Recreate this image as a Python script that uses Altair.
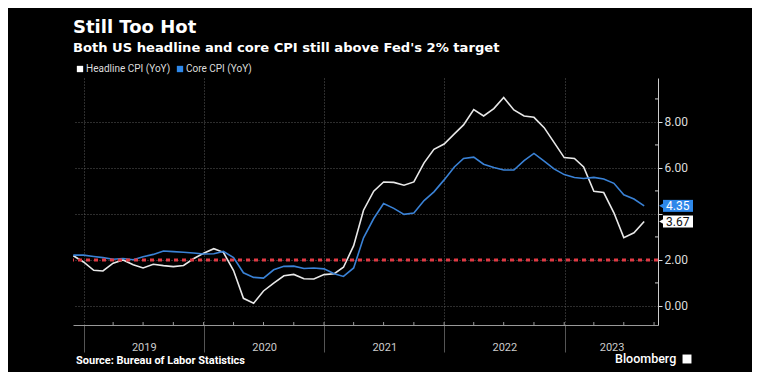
import altair as alt
import pandas as pd

# ---------------- data ----------------
start_month = "2018-11"
headline = [2.18, 1.91,
            1.55, 1.52, 1.86, 2.00, 1.79, 1.65, 1.81, 1.75, 1.71, 1.76, 2.05, 2.29,
            2.49, 2.33, 1.54, 0.33, 0.12, 0.65, 0.99, 1.31, 1.37, 1.18, 1.17, 1.36,
            1.40, 1.68, 2.62, 4.16, 4.99, 5.39, 5.37, 5.25, 5.39, 6.22, 6.81, 7.04,
            7.48, 7.87, 8.54, 8.26, 8.58, 9.06, 8.52, 8.26, 8.20, 7.75, 7.11, 6.45,
            6.41, 6.04, 4.98, 4.93, 4.05, 2.97, 3.18, 3.67]
core = [2.21, 2.21,
        2.15, 2.10, 2.03, 2.06, 2.01, 2.14, 2.24, 2.39, 2.36, 2.33, 2.30, 2.26,
        2.27, 2.37, 2.10, 1.44, 1.24, 1.21, 1.57, 1.72, 1.73, 1.63, 1.65, 1.61,
        1.40, 1.28, 1.65, 2.96, 3.80, 4.45, 4.24, 3.98, 4.04, 4.58, 4.96, 5.48,
        6.04, 6.41, 6.47, 6.16, 6.02, 5.91, 5.91, 6.32, 6.63, 6.30, 5.96, 5.71,
        5.58, 5.54, 5.59, 5.52, 5.33, 4.83, 4.65, 4.35]
series_names = ["Headline CPI (YoY)", "Core CPI (YoY)"]
target = [2.0]
y_major = [0, 2, 4, 6, 8]
y_minor = [1, 3, 5, 7, 9]
years = [2019, 2020, 2021, 2022, 2023]
title = "Still Too Hot"
subtitle = "Both US headline and core CPI still above Fed's 2% target"
source = "Source: Bureau of Labor Statistics"
brand = "Bloomberg"

# ---------------- frames ----------------
months = pd.period_range(start_month, periods=len(headline), freq="M")
dates = [p.end_time.strftime("%Y-%m-%dT00:00:00") for p in months]
df = pd.DataFrame({
    "date": dates * 2,
    "series": [series_names[0]] * len(headline) + [series_names[1]] * len(core),
    "value": headline + core,
})
quarters = pd.period_range("2019Q1", "2023Q3", freq="Q")
qdf = pd.DataFrame({"q": [p.end_time.strftime("%Y-%m-%dT00:00:00") for p in quarters]})
tags = pd.DataFrame({
    "v": [core[-1], headline[-1]],
    "lab": [f"{core[-1]:.2f}", f"{headline[-1]:.2f}"],
    "s": [series_names[1], series_names[0]],
})

W, H = 585, 247
FONT = "Roboto, Liberation Sans, sans-serif"
WHITE = "#e8e8e8"
BLUE = "#3a82d6"
TAGBLUE = "#2e88ea"
GRID = "#5a5a5a"

xscale = alt.Scale(domain=[alt.DateTime(year=2018, month=11, date=29),
                           alt.DateTime(year=2023, month=10, date=12)])
yscale = alt.Scale(domain=[-0.83, 9.91], nice=False, zero=False)
cscale = alt.Scale(domain=series_names, range=[WHITE, BLUE])

year_axis = alt.Axis(
    orient="bottom",
    values=[alt.DateTime(year=y, month=1, date=1) for y in years],
    labels=False, grid=True, gridDash=[1, 2], gridColor=GRID,
    tickSize=27, tickColor="#555555", domainColor="#999999", title=None,
)
label_axis = alt.Axis(
    orient="bottom",
    values=[alt.DateTime(year=y, month=7, date=2) for y in years[:-1]]
    + [alt.DateTime(year=2023, month=5, date=24)],
    labelExpr="timeFormat(datum.value, '%Y')", ticks=False, tickSize=0,
    domain=False, grid=False, labelPadding=16, labelColor="#cccccc",
    labelFontSize=11, labelFont=FONT, labelOverlap=False, labelFlush=False,
    labelBound=False, title=None,
)
y_axis = alt.Axis(
    orient="right", values=y_major,
    labelExpr="datum.value == 4 ? '' : format(datum.value, '.2f')",
    grid=True, gridDash=[1, 2], gridColor=GRID, tickSize=4, tickColor="#dddddd",
    domainColor="#cccccc", labelColor="#dddddd", labelFontSize=12, labelFont=FONT,
    labelPadding=2, title=None,
)

lines = alt.Chart(df).mark_line(strokeWidth=1.6).encode(
    x=alt.X("date:T", scale=xscale, axis=year_axis),
    y=alt.Y("value:Q", scale=yscale, axis=y_axis),
    color=alt.Color("series:N", scale=cscale, legend=None),
    detail="series:N",
)

qticks = alt.Chart(qdf).mark_rule(color="#999999", strokeWidth=1).encode(
    x=alt.X("q:T", scale=xscale, axis=label_axis),
    y=alt.value(H - 3), y2=alt.value(H),
)

minor = alt.Chart(pd.DataFrame({"m": y_minor})).mark_rule(color="#cccccc").encode(
    y=alt.Y("m:Q", scale=yscale, axis=None),
    x=alt.value(W - 3), x2=alt.value(W),
)

red = alt.Chart(pd.DataFrame({"t": target})).mark_rule(
    color="#e03a44", strokeDash=[4, 4], strokeWidth=3
).encode(y=alt.Y("t:Q", scale=yscale, axis=None))

tag_scale = alt.Scale(domain=series_names, range=["#ffffff", TAGBLUE])
tag_box = alt.Chart(tags).mark_rule(strokeWidth=12, strokeCap="butt").encode(
    y=alt.Y("v:Q", scale=yscale, axis=None),
    x=alt.value(W + 5), x2=alt.value(W + 35),
    color=alt.Color("s:N", scale=tag_scale, legend=None),
)
tag_arrow = alt.Chart(tags).mark_point(shape="triangle-left", filled=True, size=45, opacity=1).encode(
    y=alt.Y("v:Q", scale=yscale, axis=None),
    x=alt.value(W + 4),
    color=alt.Color("s:N", scale=tag_scale, legend=None),
)
tag_text = alt.Chart(tags).mark_text(align="left", baseline="middle", fontSize=12, font=FONT).encode(
    y=alt.Y("v:Q", scale=yscale, axis=None),
    x=alt.value(W + 8),
    text="lab:N",
    color=alt.Color("s:N", scale=alt.Scale(domain=series_names, range=["#111111", "#ffffff"]), legend=None),
)

# texts around the plot
one = pd.DataFrame({"a": [0]})
t_title = alt.Chart(pd.DataFrame({"t": [title]})).mark_text(
    align="left", baseline="alphabetic", fontSize=18, fontWeight="bold",
    font="DejaVu Sans", color="#ffffff").encode(x=alt.value(0), y=alt.value(-45), text="t:N")
t_sub = alt.Chart(pd.DataFrame({"t": [subtitle]})).mark_text(
    align="left", baseline="alphabetic", fontSize=13.1, fontWeight="bold",
    font="DejaVu Sans", color="#ffffff").encode(x=alt.value(0), y=alt.value(-26), text="t:N")
leg_sq = alt.Chart(pd.DataFrame({"s": series_names, "px": [7, 107]})).mark_square(
    size=40, opacity=1).encode(
    x=alt.X("px:Q", scale=alt.Scale(domain=[0, W], range=[0, W]), axis=None),
    y=alt.value(-9),
    color=alt.Color("s:N", scale=alt.Scale(domain=series_names, range=["#ffffff", TAGBLUE]), legend=None),
)
leg_tx = alt.Chart(pd.DataFrame({"s": series_names, "px": [13, 113]})).mark_text(
    align="left", baseline="middle", fontSize=10, font=FONT, color="#dddddd").encode(
    x=alt.X("px:Q", scale=alt.Scale(domain=[0, W], range=[0, W]), axis=None),
    y=alt.value(-9), text="s:N",
)
t_src = alt.Chart(pd.DataFrame({"t": [source]})).mark_text(
    align="left", baseline="middle", fontSize=11, fontWeight="bold", font=FONT,
    color="#ffffff").encode(x=alt.value(3), y=alt.value(283), text="t:N")
t_brand = alt.Chart(pd.DataFrame({"t": [brand]})).mark_text(
    align="left", baseline="middle", fontSize=12.5, fontWeight=500, font=FONT,
    color="#ffffff").encode(x=alt.value(542), y=alt.value(281), text="t:N")
logo = alt.Chart(one).mark_square(size=80, color="#ffffff", opacity=1).encode(
    x=alt.value(614), y=alt.value(281))

chart = alt.layer(
    lines, qticks, minor, red, tag_box, tag_arrow, tag_text,
    t_title, t_sub, leg_sq, leg_tx, t_src, t_brand, logo,
).resolve_axis(x="independent", y="independent").resolve_scale(color="independent").properties(
    width=W, height=H,
    padding={"left": 65, "top": 70, "right": 94, "bottom": 47},
    autosize=alt.AutoSizeParams(type="none"),
    background="#000000",
).configure_view(strokeWidth=0)

chart.save("out.html", embed_options={"renderer": "svg", "actions": False})
